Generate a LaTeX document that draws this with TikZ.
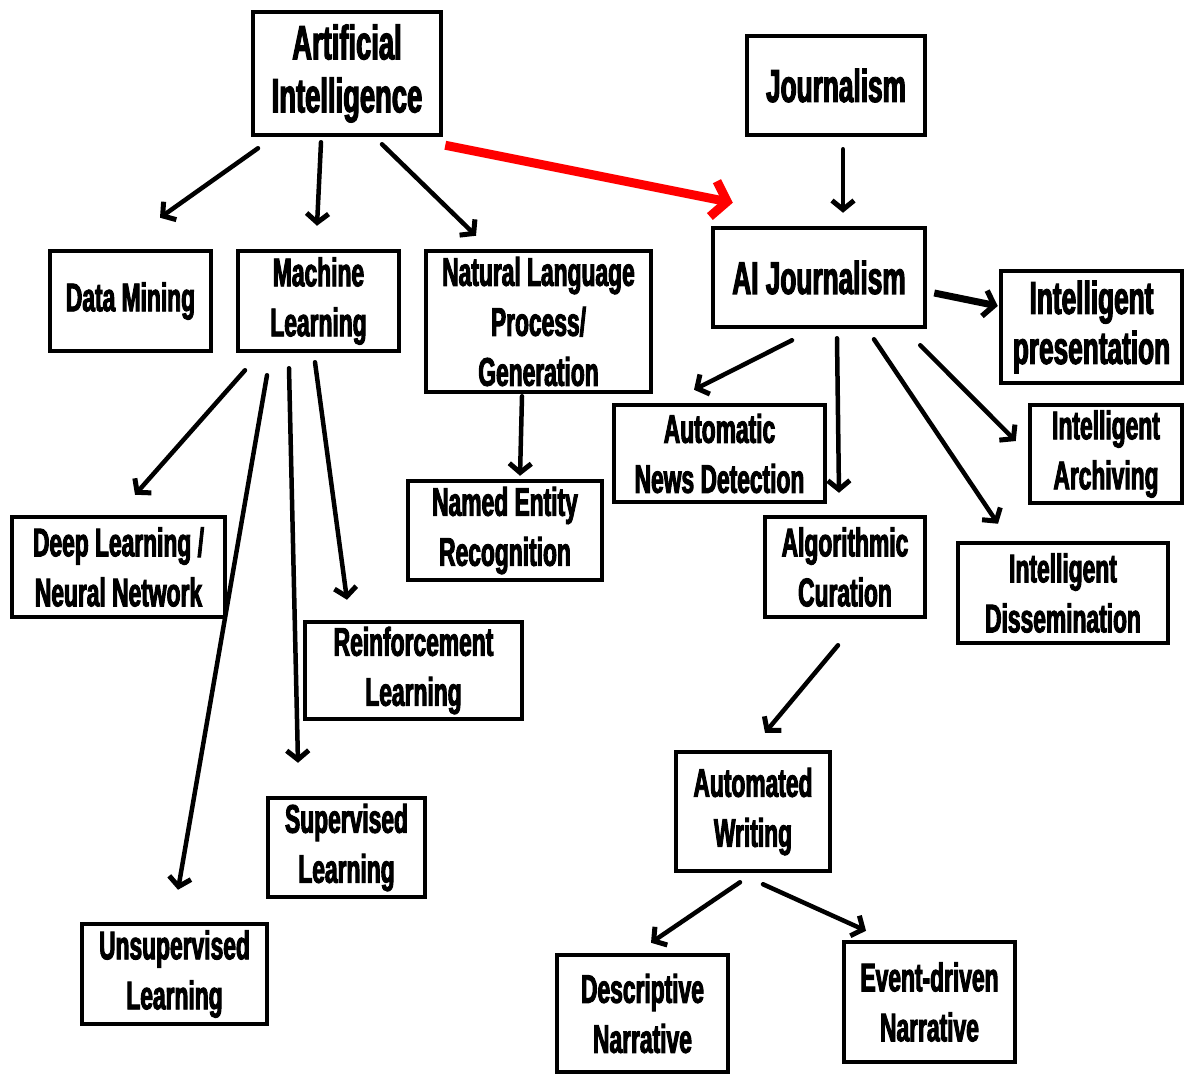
\documentclass[tikz,border=0pt]{standalone}
\usepackage{fontspec}
\setmainfont{Liberation Sans}[FakeStretch=0.57,BoldFeatures={FakeBold=2.4}]
\usetikzlibrary{arrows.meta,calc,shadows}
\begin{document}
\begin{tikzpicture}[x=1pt,y=-1pt,
  box/.style={draw=black,line width=4.5pt,fill=white,inner sep=0pt,align=center,
    font=\bfseries\fontsize{40}{50}\selectfont,
    drop shadow={shadow xshift=2pt,shadow yshift=-2pt,opacity=0.35}},
  bigbox/.style={box,font=\bfseries\fontsize{48}{53}\selectfont},
  arr/.style={line width=4.5pt,line cap=round,-{Straight Barb[length=9pt,width=22pt,line width=5pt]}},
  thickarr/.style={line width=7pt,-{Straight Barb[length=10pt,width=26pt,line width=5.5pt]}},
  redarr/.style={draw=red,line width=9pt,-{Straight Barb[length=14pt,width=36pt]}}]
\useasboundingbox[fill=white] (0,0) rectangle (1184,1074);

% left branch: artificial intelligence
\node[bigbox,minimum width=188pt,minimum height=123pt] (ai) at (347,73.5) {Artificial\\Intelligence};
\node[box,minimum width=161pt,minimum height=100pt] (dm) at (130.5,301) {Data Mining};
\node[box,minimum width=161pt,minimum height=100pt] (ml) at (318.5,301) {Machine\\Learning};
\node[box,minimum width=225pt,minimum height=141pt] (nlp) at (538.5,321.5) {Natural Language\\Process/\\Generation};
\node[box,minimum width=194pt,minimum height=99pt] (ner) at (505,530.5) {Named Entity\\Recognition};
\node[box,minimum width=213pt,minimum height=100pt] (dl) at (118.5,567) {Deep Learning /\\Neural Network};
\node[box,minimum width=217pt,minimum height=97pt] (rl) at (413.5,670.5) {Reinforcement\\Learning};
\node[box,minimum width=157pt,minimum height=99pt] (sl) at (346.5,847.5) {Supervised\\Learning};
\node[box,minimum width=185pt,minimum height=100pt] (ul) at (174.5,974) {Unsupervised\\Learning};

% right branch: journalism
\node[box,font=\bfseries\fontsize{46}{52}\selectfont,minimum width=178pt,minimum height=99pt] (jour) at (836,85.5) {Journalism};
\node[box,font=\bfseries\fontsize{46}{52}\selectfont,minimum width=212pt,minimum height=99pt] (aij) at (819,277.5) {AI Journalism};
\node[box,font=\bfseries\fontsize{46}{50}\selectfont,minimum width=181pt,minimum height=112pt] (ip) at (1091.5,327) {Intelligent\\presentation};
\node[box,minimum width=211pt,minimum height=97pt] (and) at (719.5,453.5) {Automatic\\News Detection};
\node[box,minimum width=152pt,minimum height=98pt] (iarch) at (1106,454) {Intelligent\\Archiving};
\node[box,minimum width=160pt,minimum height=100pt] (algo) at (845,567) {Algorithmic\\Curation};
\node[box,minimum width=210pt,minimum height=100pt] (diss) at (1063,593) {Intelligent\\Dissemination};
\node[box,minimum width=154pt,minimum height=119pt] (aw) at (753,811.5) {Automated\\Writing};
\node[box,minimum width=171pt,minimum height=117pt] (dn) at (642.5,1013.5) {Descriptive\\Narrative};
\node[box,minimum width=171pt,minimum height=120pt] (en) at (929.5,1002) {Event-driven\\Narrative};

% connectors
\draw[arr] ($(ai.south)+(-89,11)$) -- ($(dm.north)+(29.5,-31)$);
\draw[arr] ($(ai.south)+(-26,5)$) -- ($(ml.north)+(-1.5,-23)$);
\draw[arr] ($(ai.south)+(35,7)$) -- ($(nlp.north)+(-62.5,-13)$);
\draw[redarr] ($(ai.south east)+(2,8)$) -- ($(aij.north west)+(22,-23)$);
\draw[arr] ($(jour.south)+(7,12)$) -- ($(aij.north)+(24,-13)$);
\draw[arr] ($(ml.south)+(-73.5,17)$) -- ($(dl.north)+(16.5,-20)$);
\draw[arr] ($(ml.south)+(-51.5,22)$) -- ($(ul.north)+(3.5,-32)$);
\draw[arr] ($(ml.south)+(-29.5,15)$) -- ($(sl.north)+(-48.5,-33)$);
\draw[arr] ($(ml.south)+(-3.5,9)$) -- ($(rl.north)+(-66.5,-20)$);
\draw[arr] ($(nlp.south)+(-16.5,2)$) -- ($(ner.north)+(15,-3)$);
\draw[arr] ($(aij.south)+(-27,11)$) -- ($(and.north)+(-25.5,-13)$);
\draw[arr] ($(aij.south)+(18,9)$) -- ($(algo.north)+(-6,-22)$);
\draw[arr] ($(aij.south)+(55,10)$) -- ($(diss.north)+(-65,-17)$);
\draw[arr] ($(aij.south east)+(-7,16)$) -- ($(iarch.west)+(-12,-13)$);
\draw[thickarr] ($(aij.east)+(7,15.5)$) -- ($(ip.west)+(-1,-21)$);
\draw[arr] ($(algo.south)+(-7,26)$) -- ($(aw.north)+(12,-17)$);
\draw[arr] ($(aw.south)+(-13,9)$) -- ($(dn.north)+(8.5,-10)$);
\draw[arr] ($(aw.south)+(10,11)$) -- ($(en.north)+(-63.5,-9)$);
\end{tikzpicture}
\end{document}
